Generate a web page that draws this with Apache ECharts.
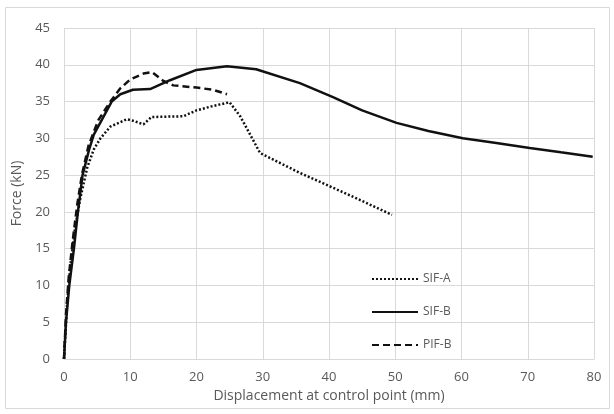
<!DOCTYPE html>
<html><head><meta charset="utf-8">
<script src="https://cdn.jsdelivr.net/npm/echarts@6/dist/echarts.min.js"></script>
<style>html,body{margin:0;padding:0;background:#fff}#c{width:614px;height:414px}</style>
</head><body><div id="c"></div>
<script>
const seriesNames = ['SIF-A', 'SIF-B', 'PIF-B'];
const xTicks = [0, 10, 20, 30, 40, 50, 60, 70, 80];
const yTicks = [0, 5, 10, 15, 20, 25, 30, 35, 40, 45];
const sifA = [[0,0],[0.5,8],[1,13],[1.7,18],[2.5,22],[3.5,26],[4.5,28.5],[5.5,30],[7,31.6],[9.5,32.6],[10.4,32.4],[12,31.9],[13.2,32.9],[18,33.0],[20,33.8],[22.5,34.4],[25,34.9],[26.6,33],[29.6,28],[31.6,27.1],[35.6,25.3],[38.6,24.1],[44,21.9],[49.5,19.6]];
const sifB = [[0,0],[0.3,5],[0.8,10],[1.5,15],[2.1,20],[2.8,25],[3.8,28.5],[4.5,30.5],[5.4,32],[7.2,35],[8.5,36],[10.4,36.6],[13,36.7],[16,37.9],[20,39.3],[24.6,39.8],[29,39.4],[35.6,37.5],[40.6,35.6],[45,33.8],[50.2,32.1],[55,31.0],[60.2,30.0],[65,29.4],[70.3,28.7],[75,28.1],[79.8,27.5]];
const pifB = [[0,0],[0.3,6],[0.7,11],[1.3,16],[2,21],[2.7,25],[3.7,29],[5.2,32.5],[7,35],[8.5,36.8],[10,38],[12,38.8],[13.3,39.0],[15,37.8],[16.5,37.2],[20,36.9],[22.5,36.6],[24.6,36.0]];

const txt = '#595959';
const font = 'Open Sans';
const chart = echarts.init(document.getElementById('c'));
chart.setOption({
  animation: false,
  graphic: [{type:'rect', shape:{x:5.5,y:7.5,width:604,height:401}, style:{fill:'none', stroke:'#d9d9d9', lineWidth:1}, silent:true}],
  grid: {left:64, right:20, top:28, bottom:55},
  xAxis: {
    type:'value', min:0, max:80, interval:10,
    name:'Displacement at control point (mm)', nameLocation:'middle', nameGap:30,
    nameTextStyle:{color:txt, fontFamily:font, fontSize:14},
    axisLine:{show:true, lineStyle:{color:'#d9d9d9'}}, axisTick:{show:false},
    axisLabel:{color:txt, fontFamily:font, fontSize:13, margin:12},
    splitLine:{show:true, lineStyle:{color:'#d9d9d9', width:1}}
  },
  yAxis: {
    type:'value', min:0, max:45, interval:5,
    name:'Force (kN)', nameLocation:'middle', nameGap:38, nameRotate:90,
    nameTextStyle:{color:txt, fontFamily:font, fontSize:14},
    axisLine:{show:false}, axisTick:{show:false},
    axisLabel:{color:txt, fontFamily:font, fontSize:13, margin:14},
    splitLine:{show:true, lineStyle:{color:'#d9d9d9', width:1}}
  },
  legend: {
    orient:'vertical', left:366, top:268, itemWidth:46, itemHeight:10, itemGap:21,
    textStyle:{color:txt, fontFamily:font, fontSize:12},
    itemStyle:{opacity:0},
    data: seriesNames
  },
  series: [
    {name:seriesNames[0], type:'line', data:sifA, symbol:'none', smooth:false, lineStyle:{color:'#111', width:2.5, type:[2,2]}, itemStyle:{color:'#111'}},
    {name:seriesNames[1], type:'line', data:sifB, symbol:'none', smooth:false, lineStyle:{color:'#111', width:2.5, type:'solid'}, itemStyle:{color:'#111'}},
    {name:seriesNames[2], type:'line', data:pifB, symbol:'none', smooth:false, lineStyle:{color:'#111', width:2.5, type:[7,4]}, itemStyle:{color:'#111'}}
  ]
});
</script></body></html>
